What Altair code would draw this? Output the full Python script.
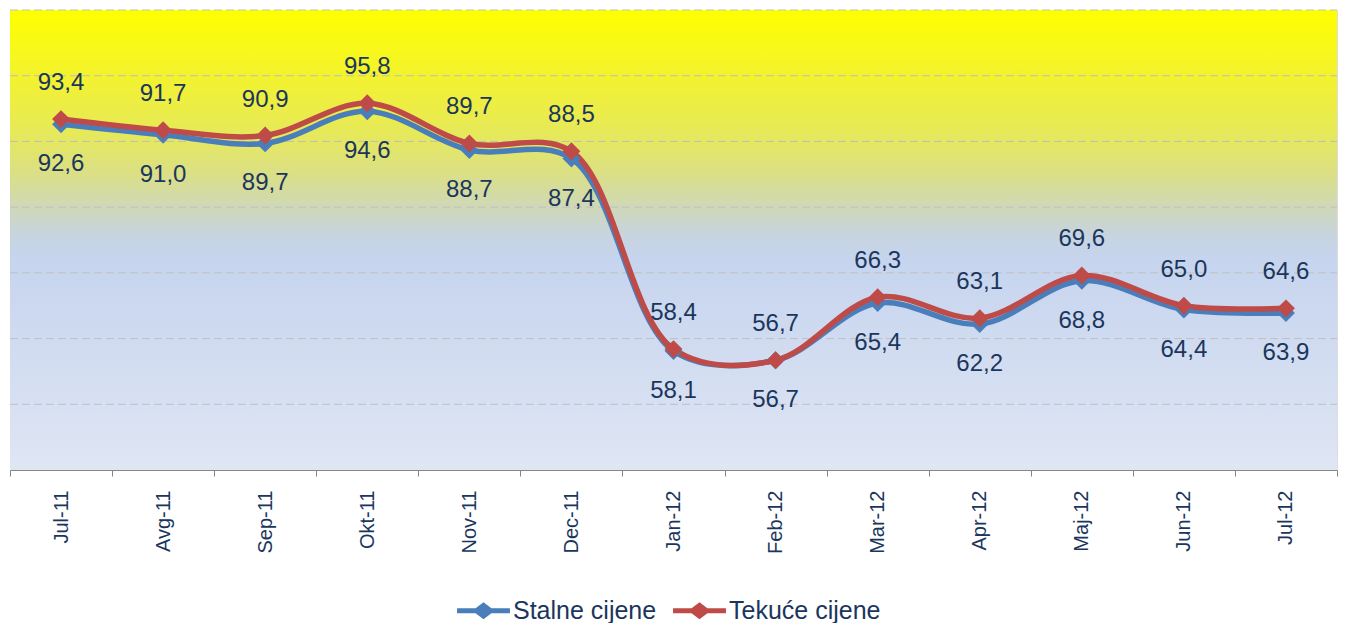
import altair as alt
import pandas as pd

months = ["Jul-11", "Avg-11", "Sep-11", "Okt-11", "Nov-11", "Dec-11", "Jan-12",
          "Feb-12", "Mar-12", "Apr-12", "Maj-12", "Jun-12", "Jul-12"]
stalne = [92.6, 91.0, 89.7, 94.6, 88.7, 87.4, 58.1, 56.7, 65.4, 62.2, 68.8, 64.4, 63.9]
tekuce = [93.4, 91.7, 90.9, 95.8, 89.7, 88.5, 58.4, 56.7, 66.3, 63.1, 69.6, 65.0, 64.6]
series = ["Stalne cijene", "Tekuće cijene"]
colors = ["#4A7EBB", "#BE4B48"]
grid_values = [50, 60, 70, 80, 90, 100, 110]

W, H = 1327, 460
FONT = "Liberation Sans"
TXT = "#1B365D"

rows = []
for i, m in enumerate(months):
    rows.append({"mjesec": m, "serija": series[0], "v": stalne[i],
                 "lab": f"{stalne[i]:.1f}".replace(".", ",")})
    rows.append({"mjesec": m, "serija": series[1], "v": tekuce[i],
                 "lab": f"{tekuce[i]:.1f}".replace(".", ",")})
df = pd.DataFrame(rows)

xenc = alt.X("mjesec:N", sort=months, title=None,
             scale=alt.Scale(paddingInner=0, paddingOuter=0),
             axis=alt.Axis(labelAngle=-90, labelFontSize=20, labelFont=FONT,
                           labelColor=TXT, labelPadding=14, tickBand="extent",
                           domainColor="#868686", tickColor="#868686",
                           tickSize=6, grid=False, labelAlign="right",
                           labelBaseline="middle"))
yscale = alt.Scale(domain=[40, 110], nice=False, zero=False)
yenc = alt.Y("v:Q", scale=yscale, title=None, axis=None)
cenc = alt.Color("serija:N", sort=series,
                 scale=alt.Scale(domain=series, range=colors),
                 legend=alt.Legend(title=None, orient="none", direction="horizontal",
                                   legendX=447, legendY=574,
                                   labelFontSize=25, labelFont=FONT, labelColor=TXT,
                                   symbolType="M-1,-0.09L-0.3,-0.09L0,-0.32L0.3,-0.09L1,-0.09L1,0.09L0.3,0.09L0,0.32L-0.3,0.09L-1,0.09Z",
                                   symbolSize=2800, symbolStrokeWidth=0,
                                   columnPadding=16, labelOffset=3))

bg = alt.Chart(pd.DataFrame({"a": [0]})).mark_rect(
    fill=alt.Gradient(gradient="linear", x1=0, y1=0, x2=0, y2=1,
                      stops=[alt.GradientStop(offset=0, color="#FFFF00"),
                             alt.GradientStop(offset=0.15, color="#F2F230"),
                             alt.GradientStop(offset=0.28, color="#E5E85E"),
                             alt.GradientStop(offset=0.36, color="#DADF88"),
                             alt.GradientStop(offset=0.43, color="#CFD8B8"),
                             alt.GradientStop(offset=0.49, color="#C7D4E0"),
                             alt.GradientStop(offset=0.54, color="#C6D4EE"),
                             alt.GradientStop(offset=1, color="#DFE6F4")])
).encode(x=alt.value(0), x2=alt.value(W), y=alt.value(0), y2=alt.value(H))

grid = alt.Chart(pd.DataFrame({"g": grid_values})).mark_rule(
    color="#BFBFBF", strokeDash=[8, 4], strokeWidth=1
).encode(y=alt.Y("g:Q", scale=yscale, axis=None), x=alt.value(0), x2=alt.value(W))

base = alt.Chart(df)

line = base.mark_line(strokeWidth=5.5, interpolate="catmull-rom").encode(
    x=xenc, y=yenc, color=cenc, order=alt.Order("serija:N"))
pts = base.mark_point(shape="diamond", filled=True, size=320, opacity=1).encode(
    x=xenc, y=yenc, color=cenc)

blue_lab = base.transform_filter(alt.datum.serija == series[0]).mark_text(
    font=FONT, fontSize=24, color=TXT, dy=40).encode(x=xenc, y=yenc, text="lab:N")
red_lab = base.transform_filter(alt.datum.serija == series[1]).mark_text(
    font=FONT, fontSize=24, color=TXT, dy=-36).encode(x=xenc, y=yenc, text="lab:N")

chart = alt.layer(bg, grid, line, pts, blue_lab, red_lab).properties(
    width=W, height=H,
    autosize=alt.AutoSizeParams(type="none"),
    padding={"left": 2, "top": 2, "right": 6, "bottom": 153}
).configure_view(stroke=None).configure(background="white")

chart.save("out.html", embed_options={"renderer": "svg", "actions": False})
